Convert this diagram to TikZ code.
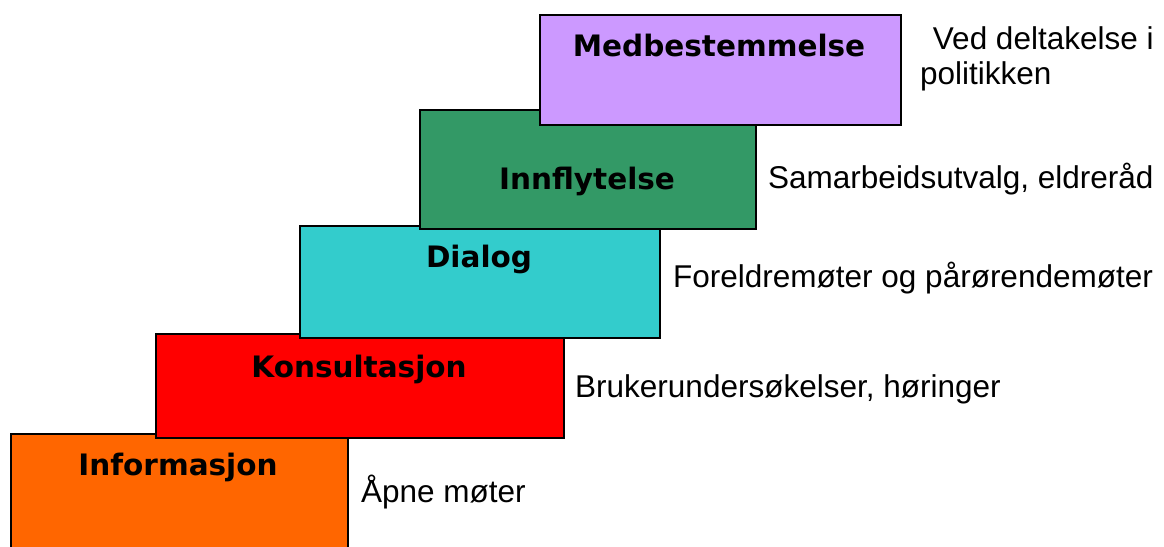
\documentclass[tikz,border=0pt]{standalone}
\usepackage{fontspec}
\setmainfont{Liberation Sans}
\newfontfamily\boldfont{DejaVu Sans}
\definecolor{cOrange}{HTML}{FF6600}
\definecolor{cRed}{HTML}{FF0000}
\definecolor{cCyan}{HTML}{33CCCC}
\definecolor{cGreen}{HTML}{339966}
\definecolor{cPurple}{HTML}{CC99FF}
\begin{document}
\begin{tikzpicture}[x=1pt,y=-1pt,
  stepbox/.style={draw=black,line width=1.5pt,inner sep=0pt,anchor=north west},
  steptitle/.style={anchor=base,font=\boldfont\bfseries\fontsize{29.5}{34}\selectfont,inner sep=0pt},
  steptext/.style={anchor=base west,font=\fontsize{31.5}{30}\selectfont,inner sep=0pt}]
\useasboundingbox (0,0) rectangle (1164,546);
\clip (0,0) rectangle (1164,546);
\node[stepbox,fill=cOrange,minimum width=337pt,minimum height=130pt] (b1) at (10,433) {};
\node[stepbox,fill=cRed,minimum width=408pt,minimum height=104pt] (b2) at (155,333) {};
\node[stepbox,fill=cCyan,minimum width=360pt,minimum height=112pt] (b3) at (299,225) {};
\node[stepbox,fill=cGreen,minimum width=336pt,minimum height=119pt] (b4) at (419,109) {};
\node[stepbox,fill=cPurple,minimum width=361pt,minimum height=110pt] (b5) at (539,14) {};
\node[steptitle] (t1) at (178,475) {Informasjon};
\node[steptitle] (t2) at (359,377) {Konsultasjon};
\node[steptitle] (t3) at (479,267) {Dialog};
\node[steptitle] (t4) at (587,189) {Innflytelse};
\node[steptitle] (t5) at (719,56) {Medbestemmelse};
\node[steptext] (d1) at (361,502) {Åpne møter};
\node[steptext] (d2) at (575,397) {Brukerundersøkelser, høringer};
\node[steptext] (d3) at (673,287) {Foreldremøter og pårørendemøter};
\node[steptext] (d4) at (768,188) {Samarbeidsutvalg, eldreråd};
\node[steptext] (d5) at (924,49) {\ Ved deltakelse i};
\node[steptext] (d5b) at (920,84) {politikken};
\end{tikzpicture}
\end{document}
